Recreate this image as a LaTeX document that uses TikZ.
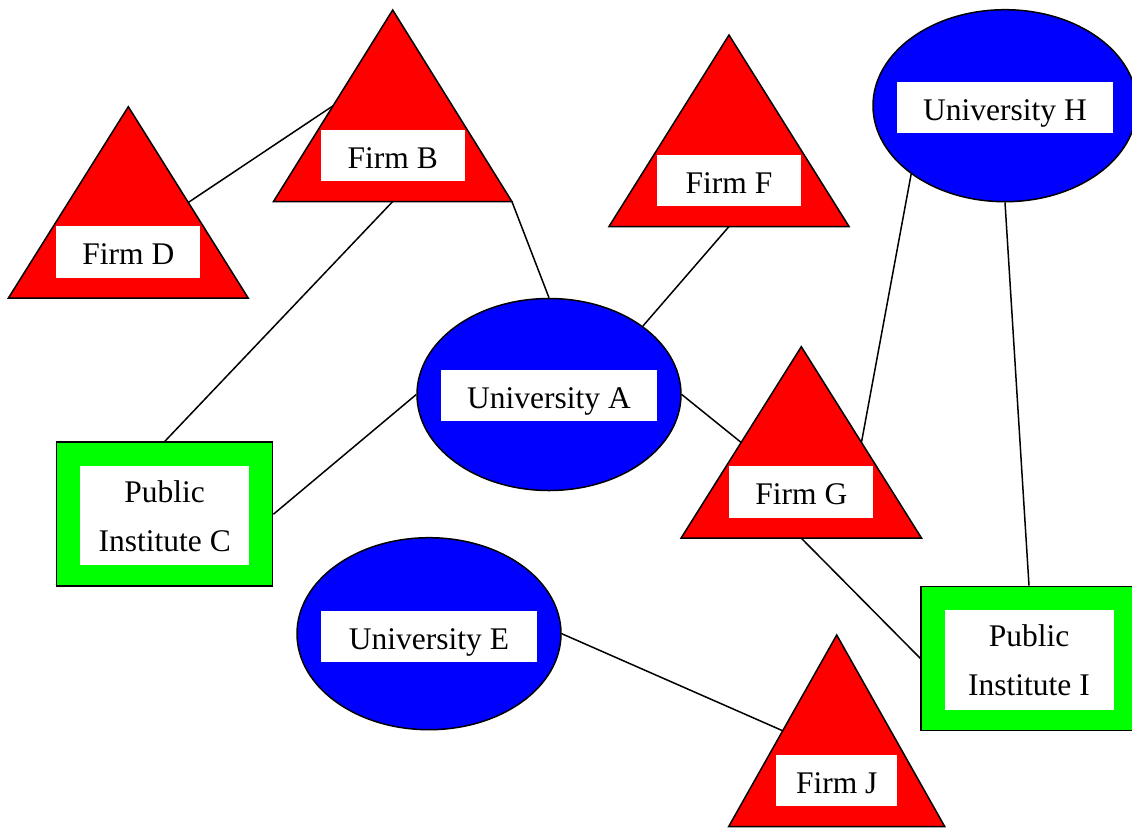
\documentclass[tikz,border=0pt]{standalone}
\usepackage{fontspec}
\setmainfont{Liberation Serif}
\usetikzlibrary{calc,shapes.geometric,backgrounds}

\definecolor{firmred}{RGB}{255,0,0}
\definecolor{univblue}{RGB}{0,0,255}
\definecolor{instgreen}{RGB}{0,255,0}

\tikzset{
  link/.style={draw=black, line width=1.5pt},
  firmtri/.style={fill=firmred, draw=black, line width=1.5pt, line join=miter},
  univ/.style={ellipse, fill=univblue, draw=black, line width=1.5pt,
    minimum width=264pt, minimum height=192pt, inner sep=0pt},
  inst/.style={rectangle, fill=instgreen, draw=black, line width=1.5pt,
    minimum width=216pt, minimum height=144pt, inner sep=0pt},
  tag/.style={fill=white, inner sep=0pt, minimum height=51.5pt,
    text height=25.2pt, text depth=0pt, font=\fontsize{31.5}{37}\selectfont},
  firmtag/.style={tag, minimum width=144pt},
  univtag/.style={tag, minimum width=216pt},
  insttag/.style={fill=white, inner sep=0pt, minimum width=169pt,
    minimum height=99.5pt},
  instline/.style={anchor=base, inner sep=0pt, font=\fontsize{31.5}{37}\selectfont},
}

% A firm: red triangle with a white name tag near its base.
% #1 name, #2/#3 apex, #4 half base width, #5 tag width, #6 text
\newcommand\firmshape[6]{%
  \coordinate (#1-top) at (#2,#3);
  \coordinate (#1-left) at ($(#1-top)+(-#4,191.5)$);
  \coordinate (#1-right) at ($(#1-top)+(#4,191.5)$);
  \coordinate (#1-base) at ($(#1-left)!0.5!(#1-right)$);
  \coordinate (#1-lside) at ($(#1-top)!0.5!(#1-left)$);
  \coordinate (#1-rside) at ($(#1-top)!0.5!(#1-right)$);
  \filldraw[firmtri] (#1-top) -- (#1-left) -- (#1-right) -- cycle;
  \node[firmtag, minimum width=#5] (#1) at ($(#1-base)+(0,-46)$) {#6};
}

% A public institute: green frame, white panel, two centred lines.
% #1 name, #2/#3 centre, #4 second line
\newcommand\instshape[4]{%
  \node[inst] (#1) at (#2,#3) {};
  \node[insttag] (#1-tag) at ($(#1.center)+(0,1.5)$) {};
  \node[instline] (#1-l1) at ($(#1-tag.center)+(0,-13.1)$) {Public};
  \node[instline] (#1-l2) at ($(#1-tag.center)+(0,35.9)$) {#4};
}

\begin{document}
\begin{tikzpicture}[x=1pt, y=-1pt]
  \useasboundingbox (0,0) rectangle (1132,828);

  % firms
  \firmshape{B}{392.7}{10}{119.2}{144pt}{Firm B}
  \firmshape{D}{128.3}{106.7}{120}{144pt}{Firm D}
  \firmshape{F}{729}{35}{120}{144pt}{Firm F}
  \firmshape{G}{801.3}{346.7}{120.3}{144pt}{Firm G}
  \firmshape{J}{836.7}{635}{108}{121pt}{Firm J}

  % universities
  \node[univ] (A) at (549,394.5) {};
  \node[univtag] (A-tag) at ($(A.center)+(0,1.2)$) {University A};
  \node[univ] (E) at (429,633.7) {};
  \node[univtag] (E-tag) at ($(E.center)+(0,3)$) {University E};
  \node[univ] (H) at (1005,105.7) {};
  \node[univtag] (H-tag) at ($(H.center)+(0,1.8)$) {University H};

  % public institutes
  \instshape{C}{164.7}{514.2}{Institute C}
  \instshape{I}{1029}{658.3}{Institute I}

  % collaboration links
  \begin{scope}[on background layer]
    \draw[link] (D-rside) -- (B-lside);
    \draw[link] (B-right) -- (A.north);
    \draw[link] (B-base) -- (C.north);
    \draw[link] (F-base) -- (A.north east);
    \draw[link] (A.west) -- (C.east);
    \draw[link] (A.east) -- (G-lside);
    \draw[link] (G-rside) -- (H.south west);
    \draw[link] (H.south) -- (I.north);
    \draw[link] (G-base) -- (I.west);
    \draw[link] (E.east) -- (J-lside);
  \end{scope}
\end{tikzpicture}
\end{document}
